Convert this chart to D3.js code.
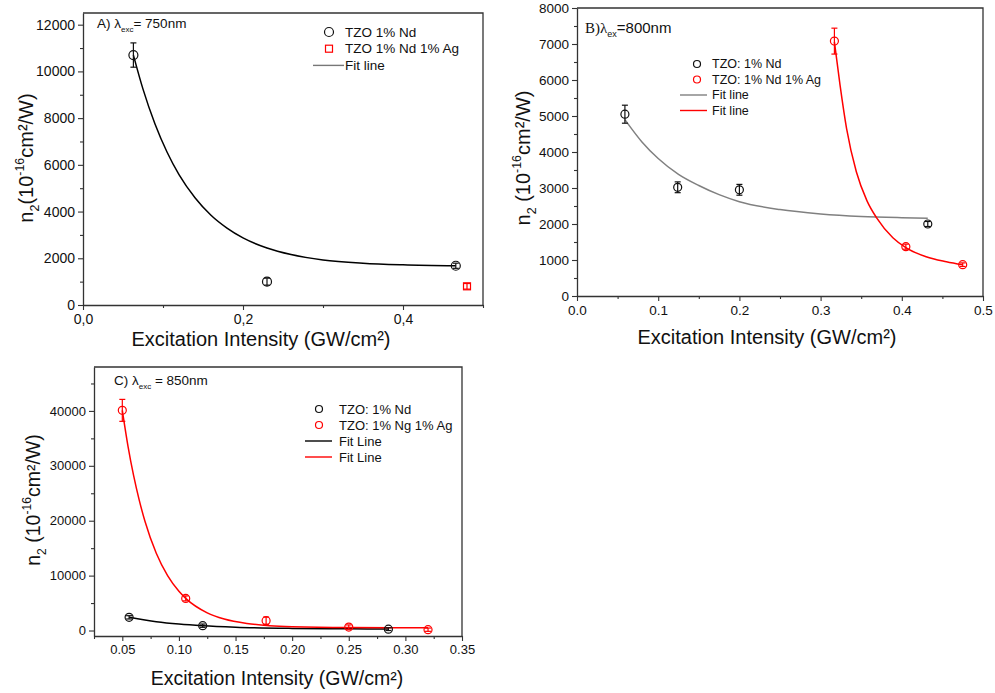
<!DOCTYPE html>
<html>
<head>
<meta charset="utf-8">
<script src="https://cdn.jsdelivr.net/npm/d3@7"></script>
<style>
  body { margin: 0; background: #fff; }
  svg { font-family: "Liberation Sans", Arial, sans-serif; }
</style>
</head>
<body>
<svg id="chart" width="995" height="693"></svg>
<script>
// ---- Panel A (750 nm) ----
const aNdX = [0.063, 0.23, 0.466];
const aNdY = [10700, 1000, 1680];
const aNdErr = [520, 150, 110];
const aAgX = [0.48];
const aAgY = [800];
const aAgErr = [120];
const aFitX = [0.063, 0.075, 0.09, 0.105, 0.12, 0.14, 0.16, 0.18, 0.2, 0.23, 0.26, 0.3, 0.35, 0.4, 0.466];
const aFitY = [10700, 9240, 7750, 6550, 5580, 4590, 3840, 3290, 2870, 2440, 2160, 1930, 1790, 1720, 1675];
const aXTicks = [0, 0.2, 0.4];
const aYTicks = [0, 2000, 4000, 6000, 8000, 10000, 12000];

// ---- Panel B (800 nm) ----
const bNdX = [0.059, 0.124, 0.2, 0.432];
const bNdY = [5050, 3020, 2950, 2000];
const bNdErr = [250, 150, 150, 70];
const bAgX = [0.317, 0.405, 0.475];
const bAgY = [7080, 1370, 870];
const bAgErr = [360, 70, 50];
const bNdFitX = [0.059, 0.08, 0.1, 0.125, 0.15, 0.175, 0.2, 0.25, 0.3, 0.35, 0.4, 0.432];
const bNdFitY = [4900, 4280, 3820, 3380, 3070, 2815, 2620, 2400, 2280, 2210, 2175, 2160];
const bAgFitX = [0.317, 0.324, 0.332, 0.344, 0.357, 0.369, 0.389, 0.405, 0.43, 0.455, 0.475];
const bAgFitY = [7060, 5850, 4650, 3450, 2650, 2170, 1620, 1345, 1090, 950, 865];
const bXTicks = [0, 0.1, 0.2, 0.3, 0.4, 0.5];
const bYTicks = [0, 1000, 2000, 3000, 4000, 5000, 6000, 7000, 8000];

// ---- Panel C (850 nm) ----
const cNdX = [0.056, 0.121, 0.285];
const cNdY = [2400, 880, 250];
const cNdErr = [300, 300, 250];
const cAgX = [0.05, 0.106, 0.177, 0.25, 0.32];
const cAgY = [40100, 5850, 1800, 620, 150];
const cAgErr = [2000, 450, 650, 400, 300];
const cNdFitX = [0.056, 0.08, 0.1, 0.121, 0.15, 0.2, 0.25, 0.285];
const cNdFitY = [2400, 1605, 1172, 866, 603, 385, 302, 276];
const cAgFitX = [0.05, 0.055, 0.06, 0.065, 0.07, 0.08, 0.09, 0.1, 0.106, 0.125, 0.14, 0.16, 0.18, 0.2, 0.25, 0.32];
const cAgFitY = [40100, 33600, 28200, 23700, 19900, 14070, 9990, 7140, 5860, 3220, 2090, 1280, 880, 690, 530, 500];
const cXTicks = [0.05, 0.1, 0.15, 0.2, 0.25, 0.3, 0.35];
const cYTicks = [0, 10000, 20000, 30000, 40000];

const svg = d3.select('#chart');
const RED = '#ff0000';

function zip(xs, ys, es) {
    return xs.map((x, i) => ({x: x, y: ys[i], e: es ? es[i] : 0}));
}

function drawPanel(cfg) {
    const g = svg.append('g');
    const x = d3.scaleLinear().domain(cfg.xDomain).range([cfg.left, cfg.right]);
    const y = d3.scaleLinear().domain(cfg.yDomain).range([cfg.bottom, cfg.top]);

    // frame (top & right)
    g.append('path')
        .attr('d', `M${cfg.left},${cfg.top}H${cfg.right}V${cfg.bottom}`)
        .attr('fill', 'none').attr('stroke', '#333').attr('stroke-width', 1.3);

    // minor ticks
    g.append('g').attr('transform', `translate(0,${cfg.bottom})`)
        .call(d3.axisBottom(x).tickValues(cfg.xMinor).tickSize(3).tickFormat('').tickSizeOuter(0))
        .call(s => s.select('.domain').remove());
    g.append('g').attr('transform', `translate(${cfg.left},0)`)
        .call(d3.axisLeft(y).tickValues(cfg.yMinor).tickSize(3).tickFormat('').tickSizeOuter(0))
        .call(s => s.select('.domain').remove());

    const xa = g.append('g').attr('transform', `translate(0,${cfg.bottom})`)
        .call(d3.axisBottom(x).tickValues(cfg.xTicks).tickFormat(cfg.xFmt).tickSize(5).tickPadding(4).tickSizeOuter(0));
    const ya = g.append('g').attr('transform', `translate(${cfg.left},0)`)
        .call(d3.axisLeft(y).tickValues(cfg.yTicks).tickFormat(d3.format('d')).tickSize(5).tickPadding(3).tickSizeOuter(0));
    [xa, ya].forEach(a => {
        a.selectAll('text').attr('font-size', cfg.tickFont).attr('fill', '#111')
            .attr('font-family', '"Liberation Sans", Arial, sans-serif');
        a.selectAll('line, path').attr('stroke', '#333').attr('stroke-width', 1.3);
    });
    g.selectAll('.tick line').attr('stroke', '#333').attr('stroke-width', 1.1);

    // x title
    g.append('text').attr('x', cfg.xTitle[0]).attr('y', cfg.xTitle[1])
        .attr('text-anchor', 'middle').attr('font-size', cfg.titleFont).attr('fill', '#111')
        .text('Excitation Intensity (GW/cm²)');

    // y title
    const yt = g.append('text')
        .attr('transform', `translate(${cfg.yTitle[0]},${cfg.yTitle[1]}) rotate(-90)`)
        .attr('text-anchor', 'middle').attr('font-size', cfg.titleFont).attr('fill', '#111');
    yt.append('tspan').text('n');
    yt.append('tspan').attr('font-size', cfg.titleFont * 0.62).attr('dy', 6).text('2');
    yt.append('tspan').attr('dy', -6).text(cfg.yGap + '(10');
    yt.append('tspan').attr('font-size', cfg.titleFont * 0.62).attr('dy', -9).text('-16');
    yt.append('tspan').attr('dy', 9).text('cm²/W)');

    const line = d3.line().x(d => x(d.x)).y(d => y(d.y)).curve(d3.curveMonotoneX);
    cfg.fits.forEach(f => {
        g.append('path').datum(zip(f.xs, f.ys))
            .attr('d', line).attr('fill', 'none')
            .attr('stroke', f.color).attr('stroke-width', f.width || 1.5);
    });

    cfg.series.forEach(s => {
        const pts = zip(s.xs, s.ys, s.es);
        const eb = g.append('g').attr('stroke', s.color).attr('stroke-width', 1.2);
        pts.forEach(p => {
            const cx = x(p.x), top = y(p.y + p.e), bot = y(p.y - p.e);
            eb.append('line').attr('x1', cx).attr('x2', cx).attr('y1', top).attr('y2', bot);
            eb.append('line').attr('x1', cx - 3).attr('x2', cx + 3).attr('y1', top).attr('y2', top);
            eb.append('line').attr('x1', cx - 3).attr('x2', cx + 3).attr('y1', bot).attr('y2', bot);
        });
        if (s.shape === 'square') {
            g.selectAll(null).data(pts).join('rect')
                .attr('x', d => x(d.x) - s.r).attr('y', d => y(d.y) - s.r)
                .attr('width', s.r * 2).attr('height', s.r * 2)
                .attr('fill', 'none').attr('stroke', s.color).attr('stroke-width', 1.2);
        } else {
            g.selectAll(null).data(pts).join('circle')
                .attr('cx', d => x(d.x)).attr('cy', d => y(d.y)).attr('r', s.r)
                .attr('fill', 'none').attr('stroke', s.color).attr('stroke-width', 1.2);
        }
    });

    // annotation
    const an = g.append('text').attr('x', cfg.note.x).attr('y', cfg.note.y)
        .attr('font-size', cfg.note.size).attr('fill', '#111');
    cfg.note.parts.forEach(p => {
        const t = an.append('tspan').text(p.t);
        if (p.sub) t.attr('font-size', cfg.note.subSize).attr('dy', 4);
        if (p.up) t.attr('dy', -4);
        if (p.serif) t.attr('font-family', '"Liberation Serif", "Times New Roman", serif');
    });

    // legend
    const lg = g.append('g').attr('font-size', cfg.legend.size).attr('fill', '#111');
    cfg.legend.items.forEach((it, i) => {
        const cy = cfg.legend.y + i * cfg.legend.dy;
        const mx = cfg.legend.x;
        if (it.type === 'circle') {
            lg.append('circle').attr('cx', mx).attr('cy', cy).attr('r', it.r)
                .attr('fill', 'none').attr('stroke', it.color).attr('stroke-width', 1.2);
        } else if (it.type === 'square') {
            lg.append('rect').attr('x', mx - it.r).attr('y', cy - it.r)
                .attr('width', it.r * 2).attr('height', it.r * 2)
                .attr('fill', 'none').attr('stroke', it.color).attr('stroke-width', 1.2);
        } else {
            lg.append('line').attr('x1', cfg.legend.lineX[0]).attr('x2', cfg.legend.lineX[1])
                .attr('y1', cy).attr('y2', cy).attr('stroke', it.color).attr('stroke-width', 1.4);
        }
        lg.append('text').attr('x', cfg.legend.textX).attr('y', cy).attr('dy', '0.35em').text(it.label);
    });
}

const commaFmt = d => d3.format('.1f')(d).replace('.', ',');

drawPanel({
    left: 83, right: 483, top: 13, bottom: 305,
    xDomain: [0, 0.5], yDomain: [0, 12500],
    xTicks: aXTicks, xMinor: [0.1, 0.3, 0.5],
    yTicks: aYTicks, yMinor: [1000, 3000, 5000, 7000, 9000, 11000],
    xFmt: commaFmt, tickFont: 14, titleFont: 20, yGap: '',
    xTitle: [261, 346], yTitle: [33, 158],
    fits: [{xs: aFitX, ys: aFitY, color: '#000'}],
    series: [
        {xs: aNdX, ys: aNdY, es: aNdErr, color: '#111', r: 4.5},
        {xs: aAgX, ys: aAgY, es: aAgErr, color: RED, r: 3.5, shape: 'square'}
    ],
    note: {x: 97, y: 28, size: 13.5, subSize: 8,
        parts: [{t: 'A) λ'}, {t: 'exc', sub: true}, {t: '= 750nm', up: true}]},
    legend: {x: 329, textX: 345, y: 32, dy: 16.7, size: 13.5, lineX: [313, 344],
        items: [
            {type: 'circle', color: '#111', r: 4.5, label: 'TZO 1% Nd'},
            {type: 'square', color: RED, r: 3.5, label: 'TZO 1% Nd 1% Ag'},
            {type: 'line', color: '#777', label: 'Fit line'}
        ]}
});

drawPanel({
    left: 577, right: 983, top: 8, bottom: 296,
    xDomain: [0, 0.5], yDomain: [0, 8000],
    xTicks: bXTicks, xMinor: [0.05, 0.15, 0.25, 0.35, 0.45],
    yTicks: bYTicks, yMinor: [500, 1500, 2500, 3500, 4500, 5500, 6500, 7500],
    xFmt: d3.format('.1f'), tickFont: 13.5, titleFont: 20, yGap: ' ',
    xTitle: [767, 344], yTitle: [530, 158],
    fits: [{xs: bNdFitX, ys: bNdFitY, color: '#808080'}, {xs: bAgFitX, ys: bAgFitY, color: RED}],
    series: [
        {xs: bNdX, ys: bNdY, es: bNdErr, color: '#111', r: 4},
        {xs: bAgX, ys: bAgY, es: bAgErr, color: RED, r: 4}
    ],
    note: {x: 585, y: 33, size: 15, subSize: 9,
        parts: [{t: 'B)', serif: true}, {t: 'λ', serif: true}, {t: 'ex', sub: true}, {t: '=800nm', up: true}]},
    legend: {x: 697, textX: 712, y: 64, dy: 15.5, size: 12.5, lineX: [680, 707],
        items: [
            {type: 'circle', color: '#111', r: 3.5, label: 'TZO: 1% Nd'},
            {type: 'circle', color: RED, r: 3.5, label: 'TZO: 1% Nd 1% Ag'},
            {type: 'line', color: '#808080', label: 'Fit line'},
            {type: 'line', color: RED, label: 'Fit line'}
        ]}
});

drawPanel({
    left: 94, right: 462, top: 367, bottom: 636,
    xDomain: [0.025, 0.35], yDomain: [-1000, 48000],
    xTicks: cXTicks, xMinor: [0.025, 0.075, 0.125, 0.175, 0.225, 0.275, 0.325],
    yTicks: cYTicks, yMinor: [5000, 15000, 25000, 35000, 45000],
    xFmt: d3.format('.2f'), tickFont: 13, titleFont: 19.5, yGap: ' ',
    xTitle: [277, 685], yTitle: [40, 500],
    fits: [{xs: cNdFitX, ys: cNdFitY, color: '#000'}, {xs: cAgFitX, ys: cAgFitY, color: RED}],
    series: [
        {xs: cNdX, ys: cNdY, es: cNdErr, color: '#111', r: 4},
        {xs: cAgX, ys: cAgY, es: cAgErr, color: RED, r: 4}
    ],
    note: {x: 114, y: 385, size: 13.5, subSize: 8,
        parts: [{t: 'C) λ'}, {t: 'exc', sub: true}, {t: ' =  850nm', up: true}]},
    legend: {x: 319, textX: 339, y: 409, dy: 16, size: 13, lineX: [305, 332],
        items: [
            {type: 'circle', color: '#111', r: 3.5, label: 'TZO: 1% Nd'},
            {type: 'circle', color: RED, r: 3.5, label: 'TZO: 1% Ng 1% Ag'},
            {type: 'line', color: '#000', label: 'Fit Line'},
            {type: 'line', color: RED, label: 'Fit Line'}
        ]}
});
</script>
</body>
</html>
